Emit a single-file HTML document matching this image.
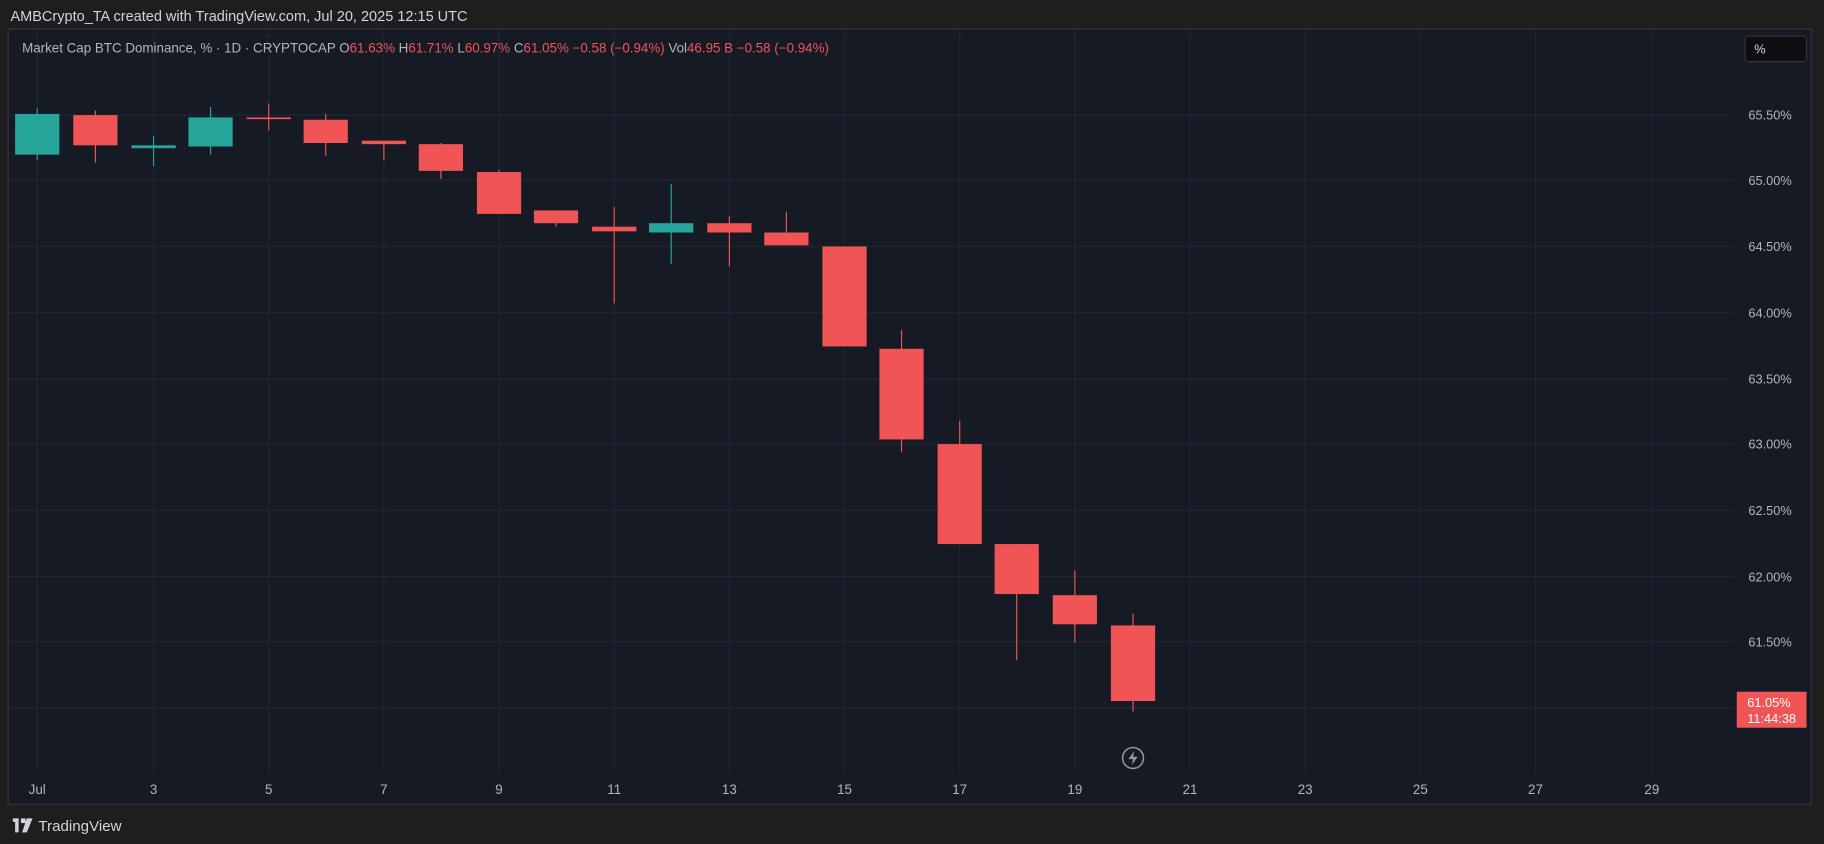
<!DOCTYPE html>
<html><head><meta charset="utf-8"><style>
html,body{margin:0;padding:0;background:#1e1e1e;overflow:hidden}
svg{display:block}
text{font-family:"Liberation Sans",sans-serif}
</style></head><body>
<svg width="1824" height="844" viewBox="0 0 1568 726" preserveAspectRatio="none">
<rect x="0" y="0" width="1568" height="726" fill="#1e1e1e"/>
<text x="9" y="18" font-size="12.5" fill="#d1d4dc">AMBCrypto_TA created with TradingView.com, Jul 20, 2025 12:15 UTC</text>
<rect x="7" y="25" width="1550" height="667" fill="#161a25" stroke="#2a2e39" stroke-width="1.5"/>
<g stroke="#222632" stroke-width="1">
<line x1="8" y1="31" x2="1490" y2="31" stroke-dasharray="2,2"/>
<line x1="8" y1="99" x2="1490" y2="99"/><line x1="8" y1="155" x2="1490" y2="155"/>
<line x1="8" y1="212" x2="1490" y2="212"/><line x1="8" y1="269" x2="1490" y2="269"/>
<line x1="8" y1="326" x2="1490" y2="326"/><line x1="8" y1="382" x2="1490" y2="382"/>
<line x1="8" y1="439" x2="1490" y2="439"/><line x1="8" y1="496" x2="1490" y2="496"/>
<line x1="8" y1="552" x2="1490" y2="552"/><line x1="8" y1="609" x2="1490" y2="609"/>
<line x1="32" y1="25" x2="32" y2="665"/><line x1="132" y1="25" x2="132" y2="665"/>
<line x1="231" y1="25" x2="231" y2="665"/><line x1="330" y1="25" x2="330" y2="665"/>
<line x1="429" y1="25" x2="429" y2="665"/><line x1="528" y1="25" x2="528" y2="665"/>
<line x1="627" y1="25" x2="627" y2="665"/><line x1="726" y1="25" x2="726" y2="665"/>
<line x1="825" y1="25" x2="825" y2="665"/><line x1="924" y1="25" x2="924" y2="665"/>
<line x1="1023" y1="25" x2="1023" y2="665"/><line x1="1122" y1="25" x2="1122" y2="665"/>
<line x1="1221" y1="25" x2="1221" y2="665"/><line x1="1320" y1="25" x2="1320" y2="665"/>
<line x1="1420" y1="25" x2="1420" y2="665"/>
</g>
<text x="19" y="45" font-size="11.5" fill="#b2b5be">Market Cap BTC Dominance, % · 1D · CRYPTOCAP  <tspan fill="#b2b5be">O</tspan><tspan fill="#f05454">61.63%</tspan>  <tspan fill="#b2b5be">H</tspan><tspan fill="#f05454">61.71%</tspan>  <tspan fill="#b2b5be">L</tspan><tspan fill="#f05454">60.97%</tspan>  <tspan fill="#b2b5be">C</tspan><tspan fill="#f05454">61.05%  −0.58 (−0.94%)</tspan>  <tspan fill="#b2b5be">Vol</tspan><tspan fill="#f05454">46.95 B  −0.58 (−0.94%)</tspan></text>
<g stroke-width="1">
<g stroke="#26a69a" fill="#26a69a">
<line x1="32" x2="32" y1="93" y2="138"/><rect x="13" y="98" width="38" height="35" stroke="none"/>
<line x1="132" x2="132" y1="117" y2="143"/><rect x="113" y="125" width="38" height="2.5" stroke="none"/>
<line x1="181" x2="181" y1="92" y2="133"/><rect x="162" y="101" width="38" height="25" stroke="none"/>
<line x1="577" x2="577" y1="158" y2="227"/><rect x="558" y="192" width="38" height="8" stroke="none"/>
</g>
<g stroke="#f05454" fill="#f05454">
<line x1="82" x2="82" y1="95" y2="140"/><rect x="63" y="99" width="38" height="26" stroke="none"/>
<line x1="231" x2="231" y1="89" y2="112"/><rect x="212" y="101" width="38" height="1.5" stroke="none"/>
<line x1="280" x2="280" y1="98" y2="134"/><rect x="261" y="103" width="38" height="20" stroke="none"/>
<line x1="330" x2="330" y1="121" y2="138"/><rect x="311" y="121" width="38" height="3" stroke="none"/>
<line x1="379" x2="379" y1="123" y2="154"/><rect x="360" y="124" width="38" height="23" stroke="none"/>
<line x1="429" x2="429" y1="146" y2="184"/><rect x="410" y="148" width="38" height="36" stroke="none"/>
<line x1="478" x2="478" y1="181" y2="195"/><rect x="459" y="181" width="38" height="11" stroke="none"/>
<line x1="528" x2="528" y1="178" y2="261"/><rect x="509" y="195" width="38" height="4" stroke="none"/>
<line x1="627" x2="627" y1="186" y2="229"/><rect x="608" y="192" width="38" height="8" stroke="none"/>
<line x1="676" x2="676" y1="182" y2="211"/><rect x="657" y="200" width="38" height="11" stroke="none"/>
<rect x="707" y="212" width="38" height="86" stroke="none"/>
<line x1="775" x2="775" y1="284" y2="389"/><rect x="756" y="300" width="38" height="78" stroke="none"/>
<line x1="825" x2="825" y1="362" y2="468"/><rect x="806" y="382" width="38" height="86" stroke="none"/>
<line x1="874" x2="874" y1="468" y2="568"/><rect x="855" y="468" width="38" height="43" stroke="none"/>
<line x1="924" x2="924" y1="491" y2="553"/><rect x="905" y="512" width="38" height="25" stroke="none"/>
<line x1="974" x2="974" y1="528" y2="612"/><rect x="955" y="538" width="38" height="65" stroke="none"/>
</g>
</g>
<g font-size="11" fill="#b2b5be" font-family="Liberation Mono,monospace">
<text x="1503" y="103">65.50%</text><text x="1503" y="159">65.00%</text>
<text x="1503" y="216">64.50%</text><text x="1503" y="273">64.00%</text>
<text x="1503" y="330">63.50%</text><text x="1503" y="386">63.00%</text>
<text x="1503" y="443">62.50%</text><text x="1503" y="500">62.00%</text>
<text x="1503" y="556">61.50%</text>
</g>
<rect x="1493" y="595" width="60" height="31" fill="#f05454"/>
<g font-size="11" fill="#fff" font-family="Liberation Mono,monospace">
<text x="1502" y="608">61.05%</text><text x="1502" y="622">11:44:38</text></g>
<rect x="1500" y="31" width="53" height="22" rx="3" fill="#0f0f0f" stroke="#333" />
<text x="1508" y="46" font-size="11" fill="#d1d4dc">%</text>
<circle cx="974" cy="652" r="9" fill="none" stroke="#9598a1" stroke-width="1.3"/>
<polygon points="975,646 970,653 974,653 973,658 978,651 974,651" fill="#9598a1"/>
<g font-size="11.5" fill="#b2b5be" text-anchor="middle">
<text x="32" y="683">Jul</text><text x="132" y="683">3</text><text x="231" y="683">5</text>
<text x="330" y="683">7</text><text x="429" y="683">9</text><text x="528" y="683">11</text>
<text x="627" y="683">13</text><text x="726" y="683">15</text><text x="825" y="683">17</text>
<text x="924" y="683">19</text><text x="1023" y="683">21</text><text x="1122" y="683">23</text>
<text x="1221" y="683">25</text><text x="1320" y="683">27</text><text x="1420" y="683">29</text>
</g>
<g fill="#d1d4dc"><rect x="11" y="704" width="5" height="3"/><rect x="13" y="704" width="3" height="12"/><rect x="18" y="704" width="4" height="4"/><polygon points="23,704 28,704 23,716 19,716"/></g>
<text x="33" y="715" font-size="13" fill="#d1d4dc">TradingView</text>
</svg>
</body></html>
